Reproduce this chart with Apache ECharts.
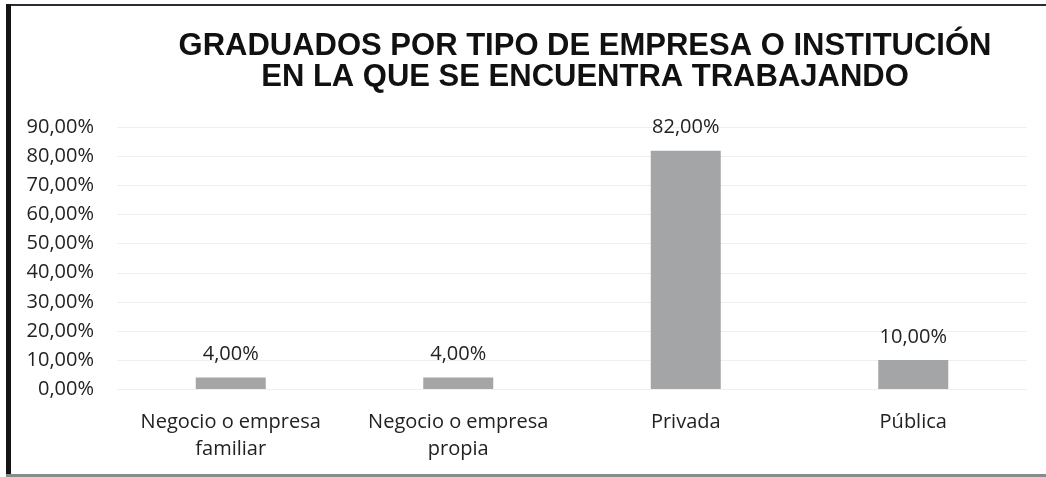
<!DOCTYPE html>
<html>
<head>
<meta charset="utf-8">
<script src="https://cdn.jsdelivr.net/npm/echarts@6/dist/echarts.min.js"></script>
<style>
  html, body { margin: 0; padding: 0; background: #ffffff; }
  #chart { width: 1046px; height: 477px; }
</style>
</head>
<body>
<div id="chart"></div>
<script>
const titleLines = ['GRADUADOS POR TIPO DE EMPRESA O INSTITUCIÓN', 'EN LA QUE SE ENCUENTRA TRABAJANDO'];
const categories = ['Negocio o empresa\nfamiliar', 'Negocio o empresa\npropia', 'Privada', 'Pública'];
const values = [4, 4, 82, 10];
const yMin = 0;
const yMax = 90;
const yInterval = 10;

const fmt = v => v.toFixed(2).replace('.', ',') + '%';

const chart = echarts.init(document.getElementById('chart'));
chart.setOption({
  backgroundColor: '#ffffff',
  animation: false,
  title: {
    text: titleLines.join('\n'),
    left: 580,
    top: 26,
    textAlign: 'center',
    textStyle: {
      fontFamily: 'Liberation Sans',
      fontWeight: 'bold',
      fontSize: 31,
      lineHeight: 31,
      color: '#111111'
    }
  },
  grid: { left: 117, right: 19, top: 127.5, bottom: 88, containLabel: false },
  xAxis: {
    type: 'category',
    data: categories,
    axisLine: { show: false },
    axisTick: { show: false },
    axisLabel: {
      interval: 0,
      margin: 20,
      fontFamily: 'Open Sans',
      fontSize: 20,
      lineHeight: 27,
      color: '#222222'
    }
  },
  yAxis: {
    type: 'value',
    min: yMin,
    max: yMax,
    interval: yInterval,
    axisLine: { show: false },
    axisTick: { show: false },
    splitLine: { lineStyle: { color: '#efefef', width: 1 } },
    axisLabel: {
      margin: 23,
      fontFamily: 'Open Sans',
      fontSize: 20,
      color: '#222222',
      formatter: v => fmt(v)
    }
  },
  series: [{
    type: 'bar',
    data: values,
    barWidth: 70,
    itemStyle: { color: '#a3a5a7' },
    label: {
      show: true,
      position: 'top',
      distance: 13,
      fontFamily: 'Open Sans',
      fontSize: 20,
      color: '#222222',
      formatter: p => fmt(p.value)
    }
  }],
  graphic: [
    { type: 'rect', left: 6, top: 4, shape: { width: 1040, height: 2 }, style: { fill: '#2b2b36' }, silent: true },
    { type: 'rect', left: 6, top: 4, shape: { width: 5, height: 473 }, style: { fill: '#141414' }, silent: true },
    { type: 'rect', left: 6, top: 474, shape: { width: 1040, height: 3 }, style: { fill: '#8a8a8a' }, silent: true }
  ]
});
</script>
</body>
</html>
